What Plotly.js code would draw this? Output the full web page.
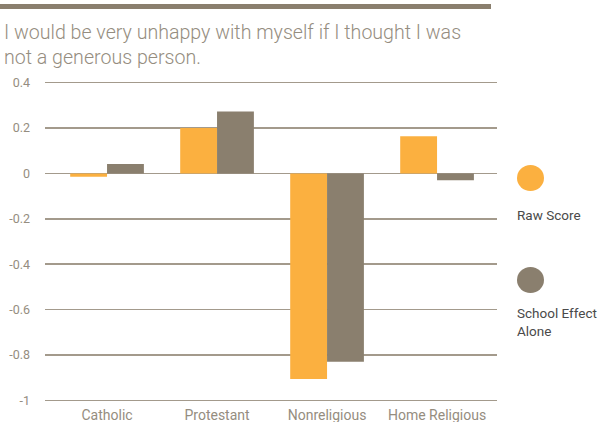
<!DOCTYPE html>
<html>
<head>
<meta charset="utf-8">
<script src="https://cdn.plot.ly/plotly-3.0.1.min.js"></script>
<style>html,body{margin:0;padding:0;background:#fff;}#chart{width:599px;height:422px;}</style>
</head>
<body>
<div id="chart"></div>
<script>
const categories = ["Catholic", "Protestant", "Nonreligious", "Home Religious"];
const rawScore = [-0.015, 0.2, -0.906, 0.164];
const schoolEffect = [0.041, 0.273, -0.83, -0.03];
const seriesNames = ["Raw Score", "School Effect<br>Alone"];
const yTickVals = [0.4, 0.2, 0, -0.2, -0.4, -0.6, -0.8, -1];
const yTickText = ["0.4", "0.2", "0", "-0.2", "-0.4", "-0.6", "-0.8", "-1"];

const ORANGE = "#FBB040";
const GRAY = "#8A7F6E";
const TXT = "#958D80";

const W = 599, H = 422;
const M = {l: 45, r: 102, t: 78, b: 17};
const pw = W - M.l - M.r, ph = H - M.t - M.b;
const px = x => (x - M.l) / pw;
const py = y => (H - M.b - y) / ph;

const traces = [
  {type: "bar", x: categories, y: rawScore, name: seriesNames[0], marker: {color: ORANGE}, hoverinfo: "y"},
  {type: "bar", x: categories, y: schoolEffect, name: seriesNames[1], marker: {color: GRAY}, hoverinfo: "y"}
];

const layout = {
  width: W, height: H,
  margin: M,
  paper_bgcolor: "#fff", plot_bgcolor: "#fff",
  font: {family: "Roboto, 'DejaVu Sans', sans-serif", color: TXT, size: 12},
  showlegend: false,
  barmode: "group",
  bargap: 0.33,
  bargroupgap: 0,
  title: {
    text: "I would be very unhappy with myself if I thought I was<br>not a generous person.",
    x: 4 / W, xanchor: "left", xref: "container",
    y: 1 - 39 / H, yanchor: "top", yref: "container",
    font: {size: 19.6, color: TXT, family: "Roboto, sans-serif", weight: 300}
  },
  xaxis: {
    type: "category",
    range: [-0.564, 3.545],
    showgrid: false, zeroline: false, showline: false,
    ticks: "", ticklabelstandoff: 0,
    tickfont: {size: 14, color: TXT}
  },
  yaxis: {
    range: [-1.02, 0.42],
    tickvals: yTickVals, ticktext: yTickText,
    showgrid: true, gridcolor: "#A39A8C", gridwidth: 1.5,
    zeroline: false, showline: false, ticks: "",
    ticklabelstandoff: 14,
    tickfont: {size: 12.5, color: TXT}
  },
  shapes: [
    {type: "rect", xref: "paper", yref: "paper", x0: px(0), x1: px(491), y0: py(9), y1: py(4),
     fillcolor: GRAY, line: {width: 0}, layer: "above"},
    {type: "circle", xref: "paper", yref: "paper", x0: px(517), x1: px(544), y0: py(191), y1: py(165),
     fillcolor: ORANGE, line: {width: 0}},
    {type: "circle", xref: "paper", yref: "paper", x0: px(517), x1: px(544), y0: py(293), y1: py(267),
     fillcolor: GRAY, line: {width: 0}}
  ],
  annotations: [
    {xref: "paper", yref: "paper", x: px(515), y: py(205), xanchor: "left", yanchor: "top",
     text: seriesNames[0], showarrow: false, align: "left", font: {size: 13.5, color: "#4a4a4a"}},
    {xref: "paper", yref: "paper", x: px(515), y: py(303), xanchor: "left", yanchor: "top",
     text: seriesNames[1], showarrow: false, align: "left", font: {size: 13.5, color: "#4a4a4a"}}
  ]
};

Plotly.newPlot("chart", traces, layout, {displayModeBar: false, staticPlot: true});
</script>
</body>
</html>
